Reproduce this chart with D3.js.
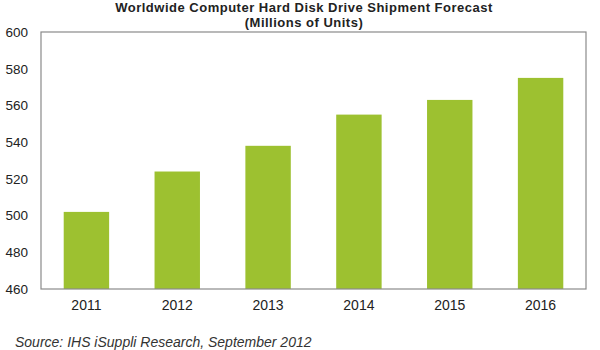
<!DOCTYPE html>
<html><head><meta charset="utf-8">
<script src="https://cdn.jsdelivr.net/npm/d3@7"></script>
<style>body{margin:0;background:#fff}svg{display:block}text{font-family:Arial,"Liberation Sans",sans-serif}</style>
</head><body>
<script>
const years = ["2011","2012","2013","2014","2015","2016"];
const shipments = [502, 524, 538, 555, 563, 575];
const yTicks = [460,480,500,520,540,560,580,600];
const titleLines = ["Worldwide Computer Hard Disk Drive Shipment Forecast","(Millions of Units)"];
const sourceText = "Source: IHS iSuppli Research, September 2012";

const W=600,H=350;
const m={left:41,right:14,top:32,bottom:61};
const svg=d3.select("body").append("svg").attr("width",W).attr("height",H);
const x=d3.scaleBand().domain(years).range([m.left,W-m.right]).paddingInner(0.5).paddingOuter(0.25);
const y=d3.scaleLinear().domain([460,600]).range([H-m.bottom,m.top]);

svg.selectAll("rect.bar").data(shipments).join("rect").attr("class","bar")
 .attr("x",(d,i)=>x(years[i])).attr("width",x.bandwidth())
 .attr("y",d=>y(d)).attr("height",d=>y(460)-y(d)).attr("fill","#9dc130");

svg.append("rect").attr("x",m.left).attr("y",m.top).attr("width",W-m.right-m.left).attr("height",H-m.bottom-m.top)
 .attr("fill","none").attr("stroke","#8a8a8a").attr("stroke-width",1.2);

const ya=svg.append("g").attr("transform",`translate(${m.left},0)`).call(d3.axisLeft(y).tickValues(yTicks).tickSize(0).tickPadding(13));
ya.select(".domain").remove();
ya.selectAll("text").attr("font-size",13.5).attr("fill","#222").attr("font-family","Arial");

const xa=svg.append("g").attr("transform",`translate(0,${H-m.bottom})`).call(d3.axisBottom(x).tickSize(0).tickPadding(11));
xa.select(".domain").remove();
xa.selectAll("text").attr("font-size",14).attr("fill","#222").attr("font-family","Arial");

svg.selectAll("text.title").data(titleLines).join("text").attr("class","title")
 .attr("x",304).attr("y",(d,i)=>12+i*15).attr("text-anchor","middle")
 .attr("font-size",13).attr("font-weight","bold").attr("letter-spacing",0.5).attr("fill","#222").text(d=>d);

svg.append("text").attr("x",15).attr("y",347).attr("font-size",14).attr("font-style","italic").attr("fill","#333").text(sourceText);
</script>
</body></html>
